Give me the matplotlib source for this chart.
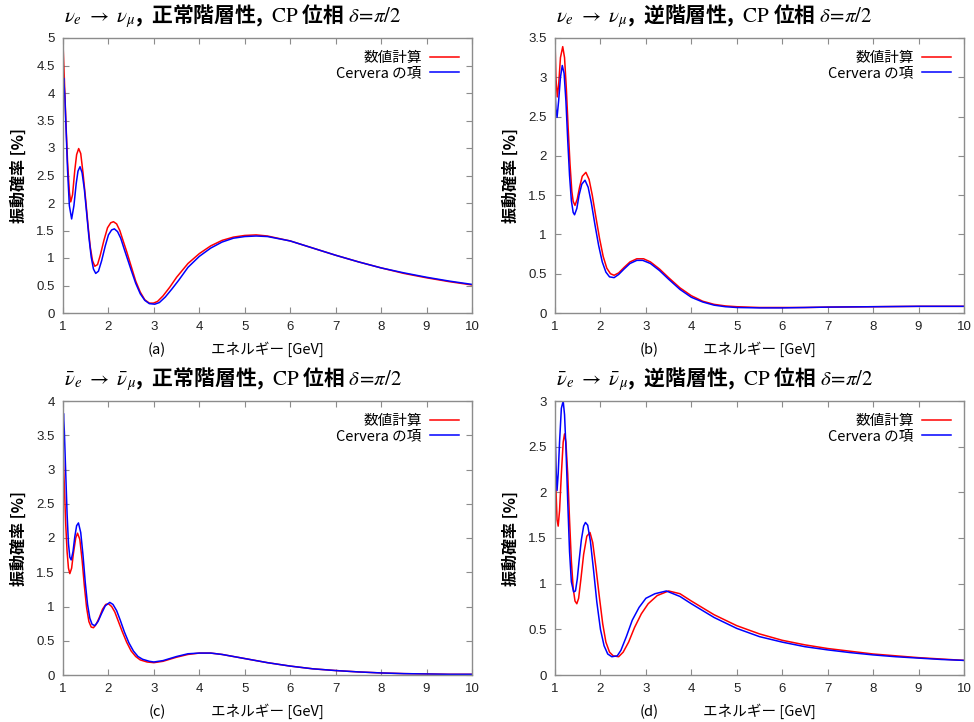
import matplotlib
matplotlib.use("Agg")
import matplotlib.pyplot as plt

plt.rcParams["font.family"] = ["Liberation Sans", "Noto Sans CJK JP"]
plt.rcParams["mathtext.fontset"] = "stix"

# ---- data (energy in GeV, probability in %) ----
# (a) nu_e -> nu_mu, normal hierarchy
a_num_e = [1.00, 1.03, 1.06, 1.10, 1.14, 1.17, 1.21, 1.26, 1.30, 1.345, 1.39, 1.44, 1.50, 1.55,
           1.60, 1.65, 1.70, 1.76, 1.82, 1.90, 1.98, 2.05, 2.11, 2.18, 2.25, 2.32, 2.40, 2.50,
           2.60, 2.70, 2.80, 2.90, 2.99, 3.08, 3.20, 3.35, 3.50, 3.75, 4.00, 4.25, 4.50, 4.75,
           5.00, 5.25, 5.50, 6.00, 6.50, 7.00, 7.50, 8.00, 8.50, 9.00, 9.50, 10.00]
a_num_p = [4.90, 4.25, 3.55, 2.75, 2.20, 2.02, 2.15, 2.60, 2.88, 2.99, 2.90, 2.55, 2.05, 1.60,
           1.20, 0.95, 0.85, 0.88, 1.05, 1.32, 1.55, 1.64, 1.66, 1.62, 1.50, 1.32, 1.12, 0.85,
           0.58, 0.38, 0.24, 0.18, 0.18, 0.21, 0.31, 0.47, 0.65, 0.90, 1.08, 1.22, 1.32, 1.38,
           1.41, 1.42, 1.40, 1.31, 1.18, 1.05, 0.93, 0.82, 0.72, 0.64, 0.57, 0.51]
a_cer_e = [1.00, 1.015, 1.04, 1.07, 1.10, 1.14, 1.19, 1.24, 1.29, 1.33, 1.375, 1.42, 1.47, 1.52,
           1.57, 1.62, 1.67, 1.72, 1.78, 1.85, 1.93, 2.00, 2.07, 2.13, 2.20, 2.27, 2.34, 2.42,
           2.50, 2.60, 2.70, 2.80, 2.90, 3.02, 3.12, 3.25, 3.40, 3.55, 3.75, 4.00, 4.25, 4.50,
           4.75, 5.00, 5.25, 5.50, 6.00, 6.50, 7.00, 7.50, 8.00, 8.50, 9.00, 9.50, 10.00]
a_cer_p = [4.15, 4.27, 3.95, 3.30, 2.60, 1.95, 1.71, 1.95, 2.35, 2.58, 2.66, 2.55, 2.25, 1.82,
           1.38, 1.02, 0.80, 0.72, 0.76, 0.95, 1.22, 1.42, 1.51, 1.53, 1.48, 1.36, 1.18, 0.98,
           0.78, 0.54, 0.35, 0.23, 0.17, 0.16, 0.19, 0.29, 0.44, 0.60, 0.83, 1.03, 1.18, 1.29,
           1.36, 1.39, 1.40, 1.39, 1.31, 1.18, 1.05, 0.93, 0.82, 0.73, 0.65, 0.58, 0.52]

# (b) nu_e -> nu_mu, inverted hierarchy
b_num_e = [1.00, 1.02, 1.05, 1.08, 1.12, 1.17, 1.21, 1.25, 1.29, 1.33, 1.37, 1.40, 1.44, 1.49,
           1.54, 1.60, 1.68, 1.75, 1.82, 1.90, 1.98, 2.06, 2.14, 2.22, 2.30, 2.40, 2.52, 2.65,
           2.80, 2.95, 3.10, 3.30, 3.50, 3.75, 4.00, 4.25, 4.50, 4.75, 5.00, 5.50, 6.00, 6.50,
           7.00, 8.00, 9.00, 10.00]
b_num_p = [3.48, 3.00, 2.75, 2.90, 3.25, 3.39, 3.25, 2.85, 2.35, 1.90, 1.55, 1.42, 1.37, 1.45,
           1.60, 1.74, 1.79, 1.70, 1.50, 1.22, 0.95, 0.72, 0.57, 0.50, 0.48, 0.51, 0.58, 0.65,
           0.69, 0.69, 0.65, 0.56, 0.45, 0.32, 0.22, 0.15, 0.11, 0.09, 0.08, 0.07, 0.07, 0.07,
           0.075, 0.08, 0.085, 0.085]
b_cer_e = [1.00, 1.02, 1.045, 1.08, 1.12, 1.16, 1.20, 1.24, 1.28, 1.32, 1.36, 1.40, 1.43, 1.48,
           1.53, 1.59, 1.66, 1.73, 1.80, 1.88, 1.96, 2.04, 2.12, 2.20, 2.30, 2.40, 2.52, 2.65,
           2.80, 2.93, 3.10, 3.30, 3.50, 3.75, 4.00, 4.25, 4.50, 4.75, 5.00, 5.50, 6.00, 6.50,
           7.00, 8.00, 9.00, 10.00]
b_cer_p = [2.85, 2.60, 2.49, 2.70, 3.00, 3.15, 3.05, 2.70, 2.20, 1.75, 1.43, 1.28, 1.25, 1.33,
           1.50, 1.64, 1.69, 1.60, 1.40, 1.12, 0.86, 0.65, 0.52, 0.46, 0.45, 0.49, 0.56, 0.63,
           0.67, 0.67, 0.63, 0.54, 0.43, 0.30, 0.20, 0.14, 0.10, 0.08, 0.07, 0.065, 0.065, 0.07,
           0.075, 0.08, 0.085, 0.085]

# (c) anti nu_e -> anti nu_mu, normal hierarchy
c_num_e = [1.00, 1.03, 1.06, 1.09, 1.12, 1.15, 1.19, 1.23, 1.28, 1.32, 1.37, 1.42, 1.47, 1.52,
           1.57, 1.62, 1.67, 1.73, 1.80, 1.87, 1.94, 2.00, 2.07, 2.14, 2.22, 2.30, 2.40, 2.50,
           2.60, 2.70, 2.85, 3.00, 3.20, 3.50, 3.75, 4.00, 4.25, 4.50, 5.00, 5.50, 6.00, 6.50,
           7.00, 7.50, 8.00, 8.50, 9.00, 9.50, 10.00]
c_num_p = [3.30, 2.75, 2.20, 1.80, 1.56, 1.48, 1.56, 1.78, 2.00, 2.07, 1.98, 1.68, 1.30, 0.98,
           0.78, 0.70, 0.69, 0.74, 0.84, 0.96, 1.03, 1.04, 1.00, 0.92, 0.78, 0.64, 0.48, 0.35,
           0.27, 0.22, 0.19, 0.18, 0.20, 0.26, 0.30, 0.32, 0.32, 0.30, 0.24, 0.18, 0.13, 0.09,
           0.065, 0.045, 0.03, 0.02, 0.015, 0.01, 0.01]
c_cer_e = [1.00, 1.01, 1.03, 1.06, 1.09, 1.12, 1.15, 1.18, 1.22, 1.26, 1.30, 1.34, 1.39, 1.44,
           1.49, 1.54, 1.59, 1.64, 1.70, 1.77, 1.85, 1.93, 2.03, 2.10, 2.18, 2.26, 2.35, 2.45,
           2.55, 2.65, 2.75, 2.90, 3.00, 3.20, 3.50, 3.75, 4.00, 4.25, 4.50, 5.00, 5.50, 6.00,
           6.50, 7.00, 7.50, 8.00, 8.50, 9.00, 9.50, 10.00]
c_cer_p = [3.60, 3.82, 3.55, 2.95, 2.35, 1.92, 1.72, 1.68, 1.80, 2.02, 2.18, 2.22, 2.08, 1.75,
           1.35, 1.03, 0.83, 0.74, 0.72, 0.78, 0.90, 1.01, 1.06, 1.03, 0.94, 0.80, 0.63, 0.47,
           0.35, 0.27, 0.23, 0.20, 0.19, 0.21, 0.27, 0.31, 0.32, 0.32, 0.30, 0.24, 0.18, 0.13,
           0.09, 0.065, 0.045, 0.03, 0.02, 0.015, 0.01, 0.01]

# (d) anti nu_e -> anti nu_mu, inverted hierarchy
d_num_e = [1.00, 1.02, 1.045, 1.07, 1.10, 1.14, 1.18, 1.21, 1.24, 1.28, 1.32, 1.36, 1.40, 1.44,
           1.48, 1.52, 1.57, 1.63, 1.70, 1.77, 1.83, 1.90, 1.97, 2.05, 2.12, 2.20, 2.28, 2.40,
           2.50, 2.62, 2.75, 2.90, 3.05, 3.25, 3.50, 3.75, 4.00, 4.50, 5.00, 5.50, 6.00, 6.50,
           7.00, 7.50, 8.00, 8.50, 9.00, 9.50, 10.00]
d_num_p = [2.65, 2.05, 1.70, 1.63, 1.80, 2.20, 2.55, 2.64, 2.55, 2.20, 1.70, 1.25, 0.95, 0.81,
           0.78, 0.84, 1.05, 1.32, 1.52, 1.56, 1.45, 1.18, 0.88, 0.56, 0.36, 0.25, 0.21, 0.20,
           0.25, 0.36, 0.52, 0.67, 0.78, 0.87, 0.92, 0.89, 0.81, 0.66, 0.54, 0.45, 0.38, 0.33,
           0.29, 0.26, 0.23, 0.21, 0.19, 0.175, 0.16]
d_cer_e = [1.00, 1.02, 1.045, 1.07, 1.10, 1.14, 1.18, 1.21, 1.24, 1.28, 1.32, 1.36, 1.41, 1.45,
           1.49, 1.53, 1.58, 1.63, 1.67, 1.72, 1.78, 1.85, 1.92, 2.00, 2.08, 2.16, 2.25, 2.37,
           2.45, 2.57, 2.70, 2.85, 3.00, 3.20, 3.45, 3.75, 4.00, 4.50, 5.00, 5.50, 6.00, 6.50,
           7.00, 7.50, 8.00, 8.50, 9.00, 9.50, 10.00]
d_cer_p = [2.78, 2.30, 2.02, 2.20, 2.55, 2.92, 3.00, 2.85, 2.50, 1.90, 1.35, 1.02, 0.91, 0.92,
           1.05, 1.25, 1.48, 1.63, 1.67, 1.64, 1.46, 1.14, 0.80, 0.50, 0.32, 0.23, 0.20, 0.21,
           0.27, 0.42, 0.60, 0.74, 0.84, 0.89, 0.92, 0.86, 0.78, 0.63, 0.51, 0.42, 0.36, 0.31,
           0.275, 0.245, 0.22, 0.20, 0.185, 0.17, 0.16]

tail = r",  $\mathrm{CP}$ 位相 $\delta\!=\!\pi/2$"
titles = [
    r"$\nu_e\ \rightarrow\ \nu_\mu$,  正常階層性" + tail,
    r"$\nu_e\ \rightarrow\ \nu_\mu$,  逆階層性" + tail,
    r"$\bar{\nu}_e\ \rightarrow\ \bar{\nu}_\mu$,  正常階層性" + tail,
    r"$\bar{\nu}_e\ \rightarrow\ \bar{\nu}_\mu$,  逆階層性" + tail,
]
panel_tags = ["(a)", "(b)", "(c)", "(d)"]
y_max = [5.0, 3.5, 4.0, 3.0]
x_ticks = [1, 2, 3, 4, 5, 6, 7, 8, 9, 10]

series = [
    (a_num_e, a_num_p, a_cer_e, a_cer_p),
    (b_num_e, b_num_p, b_cer_e, b_cer_p),
    (c_num_e, c_num_p, c_cer_e, c_cer_p),
    (d_num_e, d_num_p, d_cer_e, d_cer_p),
]

W, H = 974, 722
# axes boxes in pixels: left, top, right, bottom
boxes = [(63, 38, 472, 313), (555, 38, 964, 313), (63, 401, 472, 675), (555, 401, 964, 675)]

fig = plt.figure(figsize=(W / 100, H / 100), dpi=100)
cjk = ["Noto Sans CJK JP", "DejaVu Sans"]
frame_col = "#8c8c8c"

for i, (l, t, r, b) in enumerate(boxes):
    ax = fig.add_axes([l / W, 1 - b / H, (r - l) / W, (b - t) / H])
    ne, npb, ce, cp = series[i]
    ax.plot(ne, npb, color="#ff0000", lw=1.1, label="数値計算")
    ax.plot(ce, cp, color="#0000ff", lw=1.1, label="Cervera の項")

    ax.set_xlim(1, 10)
    ax.set_ylim(0, y_max[i])
    ax.set_xticks(x_ticks)
    yt = [k * 0.5 for k in range(int(y_max[i] / 0.5) + 1)]
    ax.set_yticks(yt)
    ax.set_yticklabels([f"{v:g}" for v in yt])
    ax.tick_params(direction="in", top=True, right=True, length=4, width=0.8,
                   color=frame_col, labelsize=9.5, labelcolor="#222222", pad=6)
    for s in ax.spines.values():
        s.set_color(frame_col)
        s.set_linewidth(1.0)

    ax.set_ylabel("振動確率 [%]", family=cjk, fontsize=11.5, fontweight="bold", labelpad=7)
    ax.set_xlabel("エネルギー [GeV]", family=cjk, fontsize=10.5, labelpad=6)
    ax.text(0.23, -0.135, panel_tags[i], transform=ax.transAxes, fontsize=10.5,
            family=cjk, ha="center", va="center")

    fig.text((l + 1) / W, 1 - (t - 22) / H, titles[i], family=cjk, fontsize=15,
             fontweight="bold", ha="left", va="center")

    leg = ax.legend(loc="upper right", frameon=False, markerfirst=False,
                    prop={"family": cjk, "size": 10.5}, handlelength=2.0,
                    handletextpad=0.55, labelspacing=0.05, borderaxespad=0.5)
    for txt in leg.get_texts():
        txt.set_ha("right")
    leg._legend_box.align = "right"

fig.savefig("out.png", dpi=100)
